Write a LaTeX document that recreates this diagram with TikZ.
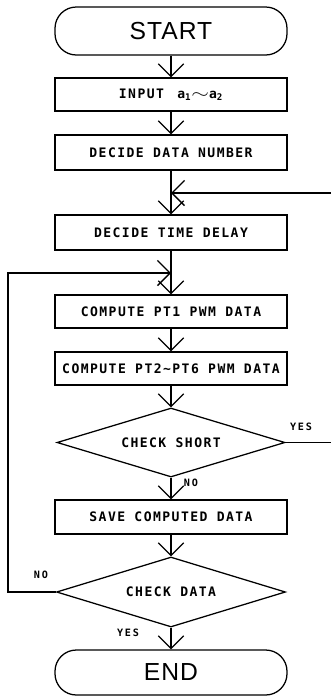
\documentclass[tikz,border=0pt]{standalone}
\usepackage{fontspec}
\usetikzlibrary{shapes.geometric,arrows.meta}
\newfontfamily\plotfont{DejaVu Sans Mono}[LetterSpace=11]
\newfontfamily\labfont{DejaVu Sans Mono}[LetterSpace=18]
\newfontfamily\bigfont{Liberation Sans}[LetterSpace=4]
\begin{document}
\begin{tikzpicture}[x=0.75pt,y=-0.75pt,line width=0.95pt,line join=miter,
  box/.style={draw,rectangle,minimum width=174pt,inner sep=0pt,font=\plotfont\bfseries\fontsize{9.8}{11}\selectfont},
  term/.style={draw,rectangle,rounded corners=16pt,minimum width=174pt,inner sep=0pt,font=\bigfont\fontsize{18.5}{20}\selectfont},
  dec/.style={draw,diamond,aspect=3.3,inner sep=0pt,font=\plotfont\bfseries\fontsize{9.8}{11}\selectfont},
  flow/.style={-{Straight Barb[length=9.5pt,width=19pt]}},
  lab/.style={inner sep=0pt,font=\labfont\bfseries\fontsize{7.6}{9}\selectfont}]
\useasboundingbox (0,0) rectangle (331,697);
\node[term,minimum height=36pt] (start) at (171,31) {START};
\node[box,minimum height=24.75pt] (input) at (171,94.5) {INPUT\hspace{10pt}a\textsubscript{1}\scalebox{1.7}[1.2]{$\sim$}a\textsubscript{2}\hspace{4pt}};
\node[box,minimum height=26.25pt] (ddn) at (171,152.5) {DECIDE DATA NUMBER};
\node[box,minimum height=26.25pt] (dtd) at (171,232.5) {DECIDE TIME DELAY};
\node[box,minimum height=24.75pt] (pt1) at (171,311.5) {COMPUTE PT1 PWM DATA};
\node[box,minimum height=24.75pt] (pt2) at (171,368.5) {COMPUTE PT2\textasciitilde PT6 PWM DATA};
\node[dec,minimum width=171pt,minimum height=51.75pt] (cs) at (171,442.5) {CHECK SHORT};
\node[box,minimum height=25.5pt] (save) at (171,517) {SAVE COMPUTED DATA};
\node[dec,minimum width=171.75pt,minimum height=52.5pt] (cd) at (171,592) {CHECK DATA};
\node[term,minimum height=33.75pt] (end) at (171,672.5) {END};
\coordinate (j1) at (171,193);
\coordinate (r1) at (331,193);
\coordinate (j2) at (171,273);
\coordinate (l1) at (8,592);
\coordinate (l2) at (8,273);
\coordinate (r2) at (331,442.5);
\draw[flow] (start) -- (input);
\draw[flow] (input) -- (ddn);
\draw[flow] (ddn) -- (dtd);
\draw[flow] (r1) -- (j1);
\draw[flow] (dtd) -- (pt1);
\draw[flow] (cd.west) -- (l1) -- (l2) -- (j2);
\draw[flow] (pt1) -- (pt2);
\draw[flow] (pt2) -- (cs);
\draw[flow] (cs.south) -- (save.north);
\draw[flow] (save) -- (cd.north);
\draw[flow] (cd.south) -- (end.north);
\draw (cs.east) -- (r2);
\node[lab] (yes1) at (301,427) {YES};
\node[lab] (no1) at (191,483) {NO};
\node[lab] (no2) at (41,575) {NO};
\node[lab] (yes2) at (128,633) {YES};
\end{tikzpicture}
\end{document}
